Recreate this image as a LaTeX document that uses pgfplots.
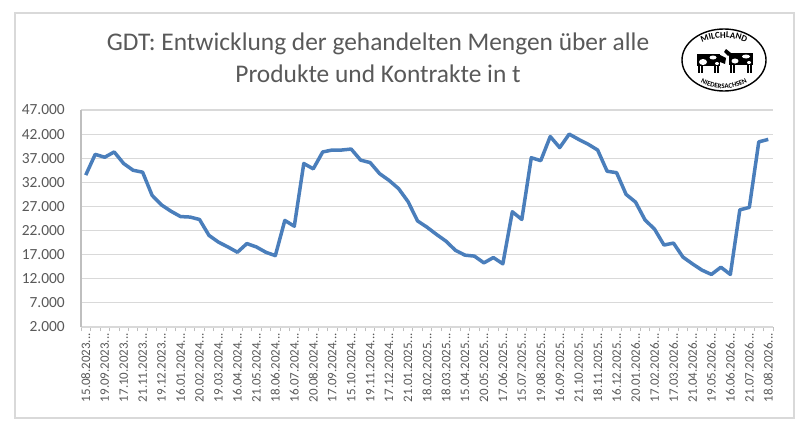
\documentclass[border=0pt]{standalone}
\usepackage{fontspec}
\setmainfont{Carlito}
\usepackage{pgfplots}
\pgfplotsset{compat=1.18}
\usetikzlibrary{decorations.text}
\definecolor{linecol}{RGB}{74,126,187}
\definecolor{gridcol}{RGB}{217,217,217}
\definecolor{axcol}{RGB}{191,191,191}
\definecolor{txtcol}{RGB}{89,89,89}
\newcommand{\el}{.{}.{}.}
\pgfplotstableread{
i v
0 33500
1 37800
2 37200
3 38300
4 35900
5 34500
6 34100
7 29300
8 27300
9 26000
10 24900
11 24800
12 24300
13 21000
14 19600
15 18600
16 17500
17 19300
18 18600
19 17500
20 16800
21 24100
22 22900
23 35900
24 34800
25 38300
26 38700
27 38700
28 38900
29 36600
30 36100
31 33800
32 32400
33 30700
34 28000
35 24000
36 22700
37 21200
38 19800
39 17900
40 16900
41 16700
42 15300
43 16400
44 15100
45 25900
46 24300
47 37100
48 36500
49 41500
50 39200
51 42000
52 40900
53 39900
54 38700
55 34300
56 34000
57 29500
58 27900
59 24200
60 22300
61 19000
62 19400
63 16500
64 15100
65 13800
66 12900
67 14400
68 12900
69 26300
70 26800
71 40400
72 40900
}\gdtdata
\begin{document}
\begin{tikzpicture}[x=1bp,y=1bp]
\path[use as bounding box] (0,0) rectangle (810,426);
\fill[white] (0,0) rectangle (810,426);
\draw[gridcol, line width=1.5bp] (15,8) rectangle (794,413);
\node[text=txtcol, font=\fontsize{25.5}{30}\selectfont, anchor=base, inner sep=0pt] at (378,376) {GDT: Entwicklung der gehandelten Mengen über alle};
\node[text=txtcol, font=\fontsize{25.5}{30}\selectfont, anchor=base, inner sep=0pt] at (378,344) {Produkte und Kontrakte in t};
% logo
\begin{scope}[shift={(724,366)}]
\draw[line width=1.4bp] (0,0) ellipse [x radius=42, y radius=31];
\path[decorate, decoration={text along path, text={|\bfseries\fontsize{9}{10}\selectfont|MILCHLAND}, text align=center}]
  (150:36 and 22) arc[start angle=150, end angle=30, x radius=36, y radius=22];
\path[decorate, decoration={text along path, text={|\bfseries\fontsize{7}{8}\selectfont|NIEDERSACHSEN}, text align=center}]
  (195:38.5 and 28.5) arc[start angle=195, end angle=345, x radius=38.5, y radius=28.5];
% left cow
\fill[black] (-27,-6) rectangle (-4,6);
\fill[white] (-21,-2) ellipse [x radius=4, y radius=3];
\fill[white] (-11,2.5) ellipse [x radius=3.5, y radius=2];
\fill[white] (-7,-3.5) ellipse [x radius=2, y radius=1.5];
\fill[black] (-4,5) -- (2,2) -- (1,-4) -- (-4,-2) -- cycle;
\draw[line width=1.2bp] (-25,-6) -- (-25,-13) (-22,-6) -- (-22,-13) (-9,-6) -- (-9,-13) (-6,-6) -- (-6,-13);
% right cow
\fill[black] (5,-5) rectangle (29,7);
\fill[white] (11,-1) ellipse [x radius=3.5, y radius=2.5];
\fill[white] (22,3.5) ellipse [x radius=4, y radius=2];
\fill[white] (25,-2.5) ellipse [x radius=2, y radius=1.5];
\fill[black] (7,7) -- (2,11) -- (0,8) -- (4,4) -- cycle;
\draw[line width=1.2bp] (7,-5) -- (7,-13) (10,-5) -- (10,-13) (24,-5) -- (24,-13) (27,-5) -- (27,-13);
\end{scope}
\begin{axis}[
  at={(81bp,99bp)}, anchor=south west,
  scale only axis, width=692bp, height=217bp,
  xmin=-0.5, xmax=72.5, ymin=2000, ymax=47000,
  xtick={0,2,...,72},
  xticklabels={15.08.2023\el,19.09.2023\el,17.10.2023\el,21.11.2023\el,19.12.2023\el,16.01.2024\el,20.02.2024\el,19.03.2024\el,16.04.2024\el,21.05.2024\el,18.06.2024\el,16.07.2024\el,20.08.2024\el,17.09.2024\el,15.10.2024\el,19.11.2024\el,17.12.2024\el,21.01.2025\el,18.02.2025\el,18.03.2025\el,15.04.2025\el,20.05.2025\el,17.06.2025\el,15.07.2025\el,19.08.2025\el,16.09.2025\el,21.10.2025\el,18.11.2025\el,16.12.2025\el,20.01.2026\el,17.02.2026\el,17.03.2026\el,21.04.2026\el,19.05.2026\el,16.06.2026\el,21.07.2026\el,18.08.2026\el},
  minor xtick={-0.5,0.5,...,72.5},
  ytick={2000,7000,12000,17000,22000,27000,32000,37000,42000,47000},
  yticklabels={2.000,7.000,12.000,17.000,22.000,27.000,32.000,37.000,42.000,47.000},
  scaled y ticks=false,
  major tick length=0pt, minor tick length=4bp, tick align=outside,
  minor tick style={axcol, line width=0.8bp},
  ymajorgrids, grid style={gridcol, line width=1.2bp},
  axis x line*=bottom, axis y line*=left,
  x axis line style={gridcol, line width=1.2bp, -},
  y axis line style={axcol, line width=1.5bp, -},
  xticklabel style={rotate=90, anchor=east, font=\fontsize{13}{15}\selectfont, text=txtcol, inner sep=0pt},
  xticklabel shift=6bp,
  yticklabel style={anchor=east, font=\fontsize{15.5}{18}\selectfont, text=txtcol, inner sep=0pt},
  yticklabel shift=16bp,
  clip=false,
]
\addplot[linecol, line width=3.5bp, line join=round, mark=none] table[x=i, y=v] {\gdtdata};
\end{axis}
\end{tikzpicture}
\end{document}
